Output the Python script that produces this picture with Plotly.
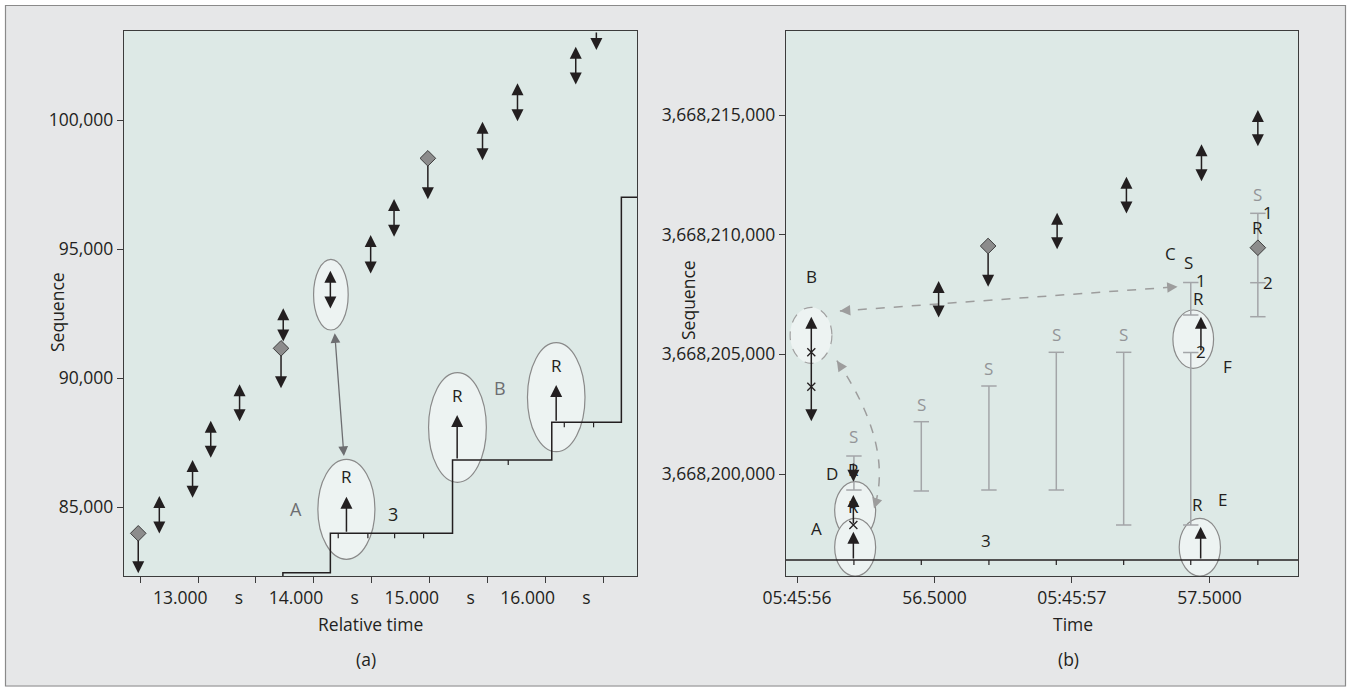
import plotly.graph_objects as go

W, H = 1351, 692
FONT = "Open Sans"
BLACK = "#231f20"
GRAY_TXT = "#6d6e71"
S_GRAY = "#939598"
BAR_GRAY = "#a3a5a8"
ELL_LINE = "#8a8a8a"
ELL_FILL = "#edf3f2"
PLOT_BG = "#dde9e6"
PAPER = "#e6e7e8"

# ---------------- Panel (a): relative time vs sequence ----------------
A_X_RANGE = [12.361, 16.791]
A_Y_RANGE = [82326, 103450]
A_X_TICKVALS = [12.5, 13.0, 13.5, 14.0, 14.5, 15.0, 15.5, 16.0, 16.5]
A_X_TICKTEXT = ["", "13.000", "", "14.000", "", "15.000", "", "16.000", ""]
A_X_UNIT = "s"
A_Y_TICKVALS = [85000, 90000, 95000, 100000]

# data segments (double-headed arrows)
A_PAIR_T = [12.666, 12.953, 13.110, 13.359, 13.736, 14.143, 14.491, 14.693, 15.457, 15.759, 16.262]
A_PAIR_HI = [85430, 86820, 88345, 89755, 92700, 94160, 95545, 96940, 99935, 101425, 102840]
A_PAIR_LO = [83915, 85300, 86850, 88270, 91355, 92635, 93990, 95415, 98385, 99895, 101320]
# retransmission timeouts (diamonds with drop arrows)
A_RTO_T = [12.484, 13.717, 14.985]
A_RTO_SEQ = [83980, 91150, 98515]
A_RTO_LO = [82430, 89600, 96925]
# drop arrow coming from above the visible range
A_DROP_T = [16.440]
A_DROP_HI = [103450]
A_DROP_LO = [102715]
# window / ack step line
A_WIN_T = [13.733, 13.733, 14.143, 15.198, 16.055, 16.656, 16.90]
A_WIN_SEQ = [82326, 82453, 83981, 86822, 88283, 97004, 97004]
A_ACK_T = [14.211, 14.467, 14.698, 14.948, 15.679, 16.163, 16.416]
A_ACK_SEQ = [83981, 83981, 83981, 83981, 86822, 88283, 88283]
# retransmissions "R"
A_RET_T = [14.282, 15.238, 16.093]
A_RET_LO = [83981, 86822, 88283]
A_RET_HI = [85400, 88566, 89729]
A_RET_LABEL_SEQ = [86174, 89314, 90504]
# ellipses (t0, t1, seq0, seq1)
A_ELL_T0 = [13.998, 14.035, 14.991, 15.845]
A_ELL_T1 = [14.297, 14.528, 15.490, 16.342]
A_ELL_S0 = [91861, 82973, 85957, 87143]
A_ELL_S1 = [94601, 86849, 90205, 91368]
# link arrow between ellipses
A_LINK_T = [14.180, 14.260]
A_LINK_SEQ = [91795, 86977]
# text labels
A_TXT = ["A", "3", "B"]
A_TXT_T = [13.844, 14.683, 15.608]
A_TXT_SEQ = [84911, 84717, 89601]
A_TXT_GRAY = [True, False, True]

# ---------------- Panel (b): time vs sequence ----------------
B_X_RANGE = [55.96, 57.822]
B_Y_RANGE = [3668195738, 3668218510]
B_X_TICKVALS = [56.0, 56.5, 57.0, 57.5]
B_X_TICKTEXT = ["05:45:56", "56.5000", "05:45:57", "57.5000"]
B_Y_TICKVALS = [3668200000, 3668205000, 3668210000, 3668215000]

B_PAIR_T = [56.052, 56.515, 56.946, 57.198, 57.471, 57.676]
B_PAIR_HI = [3668206572, 3668208064, 3668210917, 3668212421, 3668213775, 3668215208]
B_PAIR_LO = [3668202143, 3668206476, 3668209330, 3668210821, 3668212171, 3668213633]
B_XMARK_T = [56.052, 56.052, 56.205]
B_XMARK_SEQ = [3668205085, 3668203647, 3668197869]
B_DIAM_T = [56.695, 57.676]
B_DIAM_SEQ = [3668209526, 3668209455]
B_RTO_T = [56.695]
B_RTO_SEQ = [3668209526]
B_RTO_LO = [3668207826]
# SACK blocks (gray I-bars)
B_SACK_T = [56.207, 56.452, 56.698, 56.943, 57.188, 57.432, 57.432, 57.676]
B_SACK_HI = [3668200752, 3668202185, 3668203677, 3668205085, 3668205085, 3668208001, 3668205076, 3668210892]
B_SACK_LO = [3668199331, 3668199290, 3668199331, 3668199331, 3668197869, 3668206643, 3668197869, 3668206572]
B_SACK_MID_T = [57.676]
B_SACK_MID_SEQ = [3668207993]
B_S_GRAY_T = [56.207, 56.452, 56.698, 56.943, 57.188, 57.676]
B_S_GRAY_SEQ = [3668201558, 3668202912, 3668204416, 3668205837, 3668205837, 3668211698]
# ack line
B_WIN_T = [55.90, 57.90]
B_WIN_SEQ = [3668196407, 3668196407]
B_ACK_T = [56.207, 56.452, 56.698, 56.943, 57.188, 57.432, 57.676]
# retransmissions (up arrows)
B_RET_T = [56.205, 56.205, 57.469, 57.468]
B_RET_LO = [3668197869, 3668196407, 3668205110, 3668196407]
B_RET_HI = [3668199123, 3668197589, 3668206572, 3668197798]
B_DOWN_T = [56.205]
B_DOWN_HI = [3668200501]
B_DOWN_LO = [3668199678]
# ellipses
B_ELL_T0 = [56.137, 56.137, 57.367, 57.390]
B_ELL_T1 = [56.286, 56.286, 57.515, 57.540]
B_ELL_S0 = [3668197272, 3668195738, 3668204416, 3668195738]
B_ELL_S1 = [3668199678, 3668198149, 3668206852, 3668198149]
B_DASH_ELL = [55.975, 56.127, 3668204625, 3668206965]
# dashed links
B_LINK_T = [56.156, 57.384]
B_LINK_SEQ = [3668206810, 3668207826]
B_CURVE_T = [56.145, 56.3545, 56.280]
B_CURVE_SEQ = [3668204734, 3668201191, 3668198554]
# text labels
B_TXT = ["B", "C", "S", "1", "R", "2", "F", "1", "R", "2", "D", "R", "R", "A", "3", "R", "E"]
B_TXT_T = [56.052, 57.360, 57.422, 57.471, 57.459, 57.469, 57.565, 57.712, 57.673, 57.712,
           56.127, 56.205, 56.205, 56.072, 56.689, 57.458, 57.549]
B_TXT_SEQ = [3668208244, 3668209221, 3668208828, 3668208105, 3668207340, 3668205110, 3668204512,
             3668210917, 3668210307, 3668207993, 3668200029, 3668200196, 3668198634, 3668197731,
             3668197213, 3668198705, 3668198943]

# ---------------- layout geometry ----------------
A_DOM_X = [124 / W, 637 / W]
B_DOM_X = [786 / W, 1298 / W]
DOM_Y = [1 - 576 / H, 1 - 31 / H]
PLOT_H_PX = 545


def seq_per_px(rng):
    return (rng[1] - rng[0]) / PLOT_H_PX


A_SPP = seq_per_px(A_Y_RANGE)
B_SPP = seq_per_px(B_Y_RANGE)
DIAMOND_HALF_PX = 6
TICK_PX = 5

fig = go.Figure()
ann = []
shapes = []


def arrow(p, x0, y0, x1, y1, color=BLACK, both=False, width=1.5, size=1.6):
    xr, yr = ("x", "y") if p == 1 else ("x2", "y2")
    return dict(x=x1, y=y1, ax=x0, ay=y0, xref=xr, yref=yr, axref=xr, ayref=yr,
                text="", showarrow=True, arrowhead=2, startarrowhead=2,
                arrowsize=size, startarrowsize=size, arrowwidth=width,
                arrowcolor=color, arrowside="end+start" if both else "end",
                standoff=0, startstandoff=0)


def label(p, x, y, text, color=BLACK, size=17):
    xr, yr = ("x", "y") if p == 1 else ("x2", "y2")
    return dict(x=x, y=y, xref=xr, yref=yr, text=text, showarrow=False,
                xanchor="center", yanchor="middle",
                font=dict(family=FONT, size=size, color=color))


def ellipse(p, t0, t1, s0, s1, dash="solid", color=ELL_LINE):
    xr, yr = ("x", "y") if p == 1 else ("x2", "y2")
    return dict(type="circle", xref=xr, yref=yr, x0=t0, x1=t1, y0=s0, y1=s1,
                line=dict(color=color, width=1.2, dash=dash), fillcolor=ELL_FILL, layer="below")


def segs(xs, y0s, y1s):
    X, Y = [], []
    for x, a, b in zip(xs, y0s, y1s):
        X += [x, x, None]
        Y += [a, b, None]
    return X, Y


# ---------- panel (a) ----------
for i in range(len(A_ELL_T0)):
    shapes.append(ellipse(1, A_ELL_T0[i], A_ELL_T1[i], A_ELL_S0[i], A_ELL_S1[i]))

fig.add_trace(go.Scatter(x=A_WIN_T, y=A_WIN_SEQ, mode="lines", line=dict(color=BLACK, width=1.5, shape="hv"),
                         xaxis="x", yaxis="y", hoverinfo="skip"))
tx, ty = segs(A_ACK_T, A_ACK_SEQ, [s - TICK_PX * A_SPP for s in A_ACK_SEQ])
fig.add_trace(go.Scatter(x=tx, y=ty, mode="lines", line=dict(color=BLACK, width=1.2),
                         xaxis="x", yaxis="y", hoverinfo="skip"))

for t, hi, lo in zip(A_PAIR_T, A_PAIR_HI, A_PAIR_LO):
    ann.append(arrow(1, t, lo, t, hi, both=True))
for t, s, lo in zip(A_RTO_T, A_RTO_SEQ, A_RTO_LO):
    ann.append(arrow(1, t, s - DIAMOND_HALF_PX * A_SPP, t, lo))
for t, hi, lo in zip(A_DROP_T, A_DROP_HI, A_DROP_LO):
    ann.append(arrow(1, t, hi, t, lo))
for t, lo, hi, ls in zip(A_RET_T, A_RET_LO, A_RET_HI, A_RET_LABEL_SEQ):
    ann.append(arrow(1, t, lo, t, hi))
    ann.append(label(1, t, ls, "R"))
ann.append(arrow(1, A_LINK_T[0], A_LINK_SEQ[0], A_LINK_T[1], A_LINK_SEQ[1], color="#6d6e71", both=True,
                 width=1.3, size=1.5))
for txt, t, s, g in zip(A_TXT, A_TXT_T, A_TXT_SEQ, A_TXT_GRAY):
    ann.append(label(1, t, s, txt, color=GRAY_TXT if g else BLACK, size=18))

fig.add_trace(go.Scatter(x=A_RTO_T, y=A_RTO_SEQ, mode="markers",
                         marker=dict(symbol="diamond", size=12, color="#8c8c8c", line=dict(color="#3d3d3d", width=1)),
                         xaxis="x", yaxis="y", hoverinfo="skip"))

# ---------- panel (b) ----------
for i in range(len(B_ELL_T0)):
    shapes.append(ellipse(2, B_ELL_T0[i], B_ELL_T1[i], B_ELL_S0[i], B_ELL_S1[i]))
shapes.append(ellipse(2, B_DASH_ELL[0], B_DASH_ELL[1], B_DASH_ELL[2], B_DASH_ELL[3], dash="dash", color="#a0a0a0"))

fig.add_trace(go.Scatter(x=B_WIN_T, y=B_WIN_SEQ, mode="lines", line=dict(color=BLACK, width=1.5),
                         xaxis="x2", yaxis="y2", hoverinfo="skip"))
tx, ty = segs(B_ACK_T, [B_WIN_SEQ[0]] * len(B_ACK_T), [B_WIN_SEQ[0] - TICK_PX * B_SPP] * len(B_ACK_T))
fig.add_trace(go.Scatter(x=tx, y=ty, mode="lines", line=dict(color=BLACK, width=1.2),
                         xaxis="x2", yaxis="y2", hoverinfo="skip"))

# SACK bars
bx, by = segs(B_SACK_T, B_SACK_LO, B_SACK_HI)
fig.add_trace(go.Scatter(x=bx, y=by, mode="lines", line=dict(color=BAR_GRAY, width=1.5),
                         xaxis="x2", yaxis="y2", hoverinfo="skip"))
fig.add_trace(go.Scatter(x=B_SACK_T + B_SACK_T + B_SACK_MID_T, y=B_SACK_LO + B_SACK_HI + B_SACK_MID_SEQ,
                         mode="markers", marker=dict(symbol="line-ew", size=11, line=dict(color=BAR_GRAY, width=1.5)),
                         xaxis="x2", yaxis="y2", hoverinfo="skip"))
for t, s in zip(B_S_GRAY_T, B_S_GRAY_SEQ):
    ann.append(label(2, t, s, "S", color=S_GRAY))

for t, hi, lo in zip(B_PAIR_T, B_PAIR_HI, B_PAIR_LO):
    ann.append(arrow(2, t, lo, t, hi, both=True))
for t, s, lo in zip(B_RTO_T, B_RTO_SEQ, B_RTO_LO):
    ann.append(arrow(2, t, s - DIAMOND_HALF_PX * B_SPP, t, lo))
for t, lo, hi in zip(B_RET_T, B_RET_LO, B_RET_HI):
    ann.append(arrow(2, t, lo, t, hi))
for t, hi, lo in zip(B_DOWN_T, B_DOWN_HI, B_DOWN_LO):
    ann.append(arrow(2, t, hi, t, lo))

fig.add_trace(go.Scatter(x=B_XMARK_T, y=B_XMARK_SEQ, mode="markers",
                         marker=dict(symbol="x-thin", size=8, line=dict(color=BLACK, width=1.3)),
                         xaxis="x2", yaxis="y2", hoverinfo="skip"))
fig.add_trace(go.Scatter(x=B_DIAM_T, y=B_DIAM_SEQ, mode="markers",
                         marker=dict(symbol="diamond", size=12, color="#8c8c8c", line=dict(color="#3d3d3d", width=1)),
                         xaxis="x2", yaxis="y2", hoverinfo="skip"))

# dashed links
DASH_COL = "#9d9d9d"
shapes.append(dict(type="line", xref="x2", yref="y2", x0=B_LINK_T[0], y0=B_LINK_SEQ[0], x1=B_LINK_T[1],
                   y1=B_LINK_SEQ[1], line=dict(color=DASH_COL, width=1.5, dash="dash"), layer="above"))
f = 0.03
for (ha, hs), (oa, os_) in [((B_LINK_T[0], B_LINK_SEQ[0]), (B_LINK_T[1], B_LINK_SEQ[1])),
                            ((B_LINK_T[1], B_LINK_SEQ[1]), (B_LINK_T[0], B_LINK_SEQ[0]))]:
    ann.append(arrow(2, ha + f * (oa - ha), hs + f * (os_ - hs), ha, hs, color=DASH_COL, width=1.3, size=1.6))
p0 = (B_CURVE_T[0], B_CURVE_SEQ[0])
pc = (B_CURVE_T[1], B_CURVE_SEQ[1])
p2 = (B_CURVE_T[2], B_CURVE_SEQ[2])
shapes.append(dict(type="path", xref="x2", yref="y2",
                   path=f"M {p0[0]},{p0[1]} Q {pc[0]},{pc[1]} {p2[0]},{p2[1]}",
                   line=dict(color=DASH_COL, width=1.5, dash="dash"), layer="above"))
for p, fr in [(p0, 0.1), (p2, 0.15)]:
    ann.append(arrow(2, p[0] + fr * (pc[0] - p[0]), p[1] + fr * (pc[1] - p[1]), p[0], p[1],
                     color=DASH_COL, width=1.3, size=1.6))

for txt, t, s in zip(B_TXT, B_TXT_T, B_TXT_SEQ):
    ann.append(label(2, t, s, txt))

# ---------- frame, titles ----------
shapes.append(dict(type="rect", xref="paper", yref="paper", x0=0, x1=1, y0=0, y1=1,
                   line=dict(color="white", width=11), fillcolor="rgba(0,0,0,0)", layer="above"))
shapes.append(dict(type="rect", xref="paper", yref="paper", x0=5.5 / W, x1=1345.5 / W, y0=1 - 686 / H,
                   y1=1 - 5.5 / H, line=dict(color="#8a8a8a", width=1.2), fillcolor="rgba(0,0,0,0)", layer="above"))


def ptext(px, py, text, angle=0, size=17.5):
    return dict(x=px / W, y=1 - py / H, xref="paper", yref="paper", text=text, showarrow=False,
                xanchor="center", yanchor="middle", textangle=angle,
                font=dict(family=FONT, size=size, color=BLACK))


ann += [ptext(57, 312, "Sequence", -90), ptext(688, 300, "Sequence", -90),
        ptext(371, 624, "Relative time"), ptext(1073, 624, "Time"),
        ptext(366, 659, "(a)"), ptext(1068, 659, "(b)")]

nbsp = "\u00a0" * 6
axis_common = dict(showline=True, mirror=True, linecolor="#3c3c3c", linewidth=1.3, ticks="outside",
                   ticklen=6, tickwidth=1.2, tickcolor="#3c3c3c", showgrid=False, zeroline=False,
                   automargin=False, tickfont=dict(family=FONT, size=17.5, color=BLACK), fixedrange=True)

fig.update_layout(
    template="none",
    width=W, height=H, margin=dict(l=0, r=0, t=0, b=0, pad=0), autosize=False,
    paper_bgcolor=PAPER, plot_bgcolor=PLOT_BG, showlegend=False,
    xaxis=dict(domain=A_DOM_X, range=A_X_RANGE, anchor="y", tickmode="array", tickvals=A_X_TICKVALS,
               ticktext=[(t + nbsp + A_X_UNIT) if t else "" for t in A_X_TICKTEXT], **axis_common),
    yaxis=dict(domain=DOM_Y, range=A_Y_RANGE, anchor="x", tickmode="array", tickvals=A_Y_TICKVALS,
               tickformat=",d", **axis_common),
    xaxis2=dict(domain=B_DOM_X, range=B_X_RANGE, anchor="y2", tickmode="array", tickvals=B_X_TICKVALS,
                ticktext=B_X_TICKTEXT, **axis_common),
    yaxis2=dict(domain=DOM_Y, range=B_Y_RANGE, anchor="x2", tickmode="array", tickvals=B_Y_TICKVALS,
                tickformat=",d", **axis_common),
    shapes=shapes, annotations=ann,
)

fig.write_html("out.html", config={"displayModeBar": False})
